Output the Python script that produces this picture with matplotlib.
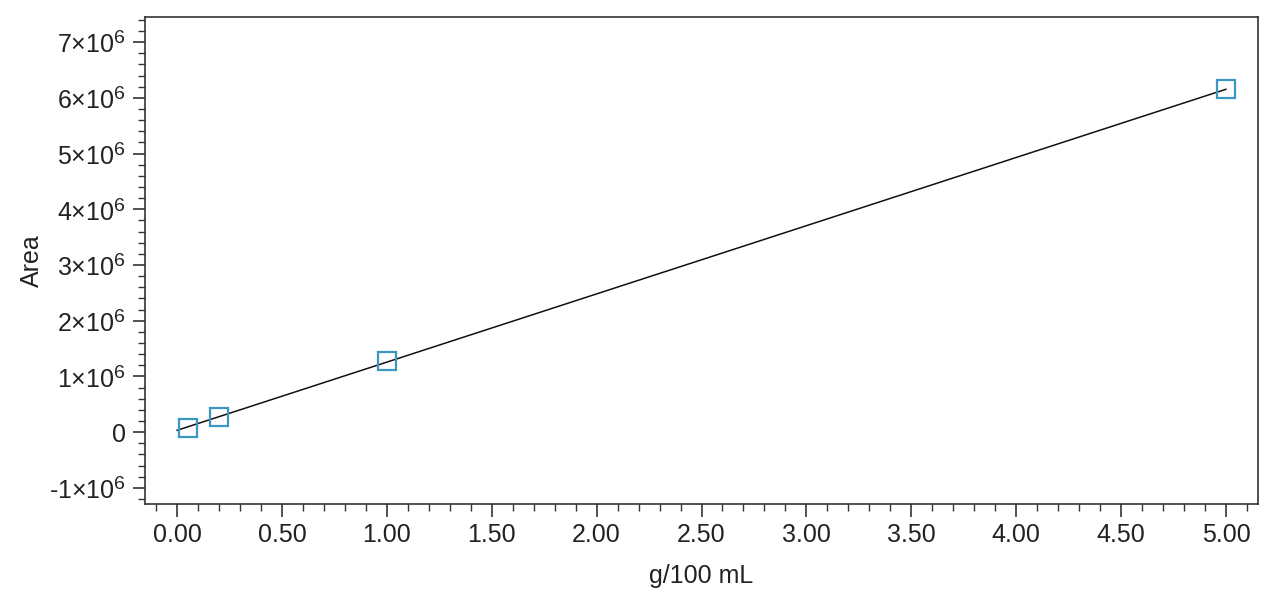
import numpy as np
import matplotlib as mpl
mpl.use('Agg')
import matplotlib.pyplot as plt
from matplotlib.ticker import MultipleLocator, FuncFormatter

try:
    import matplotlib._mathtext as _mt
    _mt.SHRINK_FACTOR = 0.78  # slightly larger exponent, like the original
except Exception:
    pass

# calibration points
conc = [0.05, 0.20, 1.00, 5.00]          # g/100 mL
area = [0.08e6, 0.28e6, 1.27e6, 6.15e6]  # peak area

plt.rcParams['font.family'] = ['Liberation Sans', 'DejaVu Sans']
plt.rcParams['mathtext.fontset'] = 'custom'
plt.rcParams['mathtext.rm'] = 'Liberation Sans'
plt.rcParams['mathtext.it'] = 'Liberation Sans'

fig = plt.figure(figsize=(12.8, 6.07), dpi=100)
ax = fig.add_axes([145 / 1280, 1 - 504 / 607, (1258 - 145) / 1280, (504 - 17) / 607])

slope, icpt = np.polyfit(conc, area, 1)
xfit = np.array([0.0, max(conc)])
ax.plot(xfit, slope * xfit + icpt, color='#111111', lw=1.1, zorder=2)
ax.plot(conc, area, ls='None', marker='s', ms=13, mfc='none',
        mec='#3a98c0', mew=1.6, zorder=3)

ax.set_xlim(-0.153, 5.153)
ax.set_ylim(-1.29e6, 7.45e6)

ax.xaxis.set_major_locator(MultipleLocator(0.5))
ax.xaxis.set_minor_locator(MultipleLocator(0.1))
ax.yaxis.set_major_locator(MultipleLocator(1e6))
ax.yaxis.set_minor_locator(MultipleLocator(0.2e6))
ax.xaxis.set_major_formatter(FuncFormatter(lambda v, p: f'{v:.2f}'))


def yfmt(v, pos):
    n = int(round(v / 1e6))
    if n == 0:
        return '0'
    sign = '-' if n < 0 else ''
    return sign + r'$%d{\times}10^{6}$' % abs(n)


ax.yaxis.set_major_formatter(FuncFormatter(yfmt))

for s in ax.spines.values():
    s.set_color('#333333')
    s.set_linewidth(1.2)
ax.tick_params(which='major', length=9, width=1.2, color='#333333',
               labelsize=18, labelcolor='#222222', pad=5)
ax.tick_params(which='minor', length=5, width=1.0, color='#333333')

ax.set_xlabel('g/100 mL', fontsize=18, color='#222222', labelpad=12)
ax.set_ylabel('Area', fontsize=18, color='#222222', labelpad=3)

fig.savefig('out.png', dpi=100)
